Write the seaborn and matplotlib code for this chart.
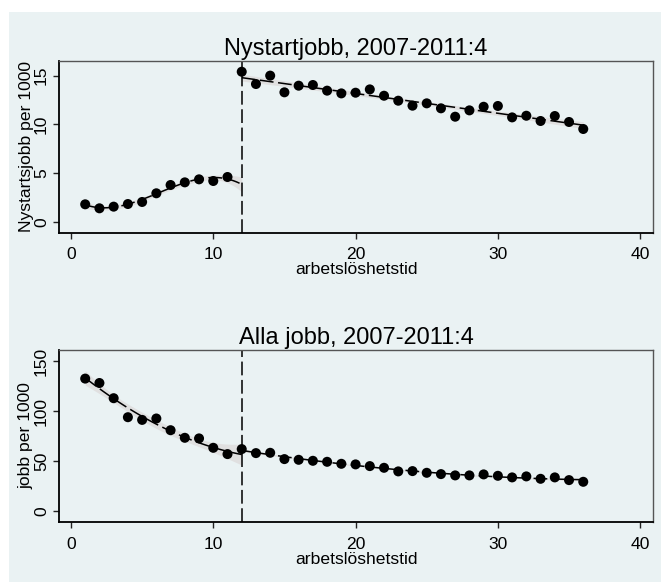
import numpy as np
import pandas as pd
import matplotlib
matplotlib.use("Agg")
import matplotlib.pyplot as plt
import seaborn as sns
from matplotlib.patches import Rectangle

# ---- data ----
months = list(range(1, 37))
nystart = [1.81, 1.40, 1.57, 1.84, 2.05, 2.94, 3.79, 4.06, 4.37, 4.20, 4.61,
           15.40, 14.14, 15.00, 13.29, 13.97, 14.04, 13.46, 13.18, 13.25, 13.59,
           12.94, 12.43, 11.92, 12.16, 11.65, 10.79, 11.44, 11.81, 11.89, 10.72,
           10.89, 10.35, 10.86, 10.25, 9.53]
alla = [132.4, 128.0, 112.8, 93.8, 91.1, 92.5, 80.8, 73.2, 72.6, 63.2, 56.9,
        61.9, 57.9, 58.2, 51.9, 51.2, 50.2, 49.2, 47.2, 46.6, 44.9, 43.2,
        39.6, 39.9, 38.2, 36.9, 35.6, 35.6, 36.6, 35.2, 33.6, 34.6, 32.2,
        33.6, 30.9, 29.2]
cutoff = 12
titles = ["Nystartjobb, 2007-2011:4", "Alla jobb, 2007-2011:4"]
ylabels = ["Nystartsjobb per 1000", "jobb per 1000"]
xlabel = "arbetslöshetstid"
xticks = [0, 10, 20, 30, 40]
yticks_top = [0, 5, 10, 15]
yticks_bot = [0, 50, 100, 150]
fit_orders = [(3, 1), (2, 2)]

BG = "#EAF2F3"
sns.set_theme(style="white")
plt.rcParams["font.family"] = ["Liberation Sans", "DejaVu Sans"]
plt.rcParams.update({"text.color": "black", "axes.labelcolor": "black",
                     "xtick.color": "black", "ytick.color": "black"})

fig = plt.figure(figsize=(6.61, 5.82), dpi=100)
fig.patch.set_facecolor("white")
fig.patches.append(Rectangle((9 / 661, 0), 1 - 9 / 661, 1 - 12 / 582,
                             transform=fig.transFigure, facecolor=BG,
                             edgecolor="none", zorder=-10))

left, width = 59.3 / 661, (652.7 - 59.3) / 661
ax_top = fig.add_axes([left, 1 - 232.7 / 582, width, (232.7 - 61) / 582])
ax_bot = fig.add_axes([left, 1 - 522 / 582, width, (522 - 350) / 582])


def fit_segment(x, y, order, x0, x1):
    x = np.asarray(x, float)
    y = np.asarray(y, float)
    coef, cov = np.polyfit(x, y, order, cov=True)
    xs = np.linspace(x0, x1, 100)
    X = np.vstack([xs ** p for p in range(order, -1, -1)]).T
    yh = X @ coef
    se = np.sqrt(np.einsum("ij,jk,ik->i", X, cov, X))
    return xs, yh, se


def draw(ax, yvals, orders, title, ylabel, yticks, ylim):
    ax.set_facecolor(BG)
    df = pd.DataFrame({"x": months, "y": yvals})
    left_df = df[df.x < cutoff]
    right_df = df[df.x >= cutoff]
    for part, order, (a, b) in [(left_df, orders[0], (1, cutoff)),
                                (right_df, orders[1], (cutoff, 36))]:
        xs, yh, se = fit_segment(part.x, part.y, order, a, b)
        ax.fill_between(xs, yh - 1.96 * se, yh + 1.96 * se,
                        color="#DDD9D9", alpha=0.7, lw=0, zorder=1)
        sns.lineplot(x=xs, y=yh, ax=ax, color="black", lw=1.1,
                     dashes=False, zorder=2).lines[-1].set_dashes([9, 3])
    sns.scatterplot(data=df, x="x", y="y", ax=ax, color="black", s=52,
                    edgecolor="none", zorder=3)
    ax.axvline(cutoff, color="black", lw=1.1, dashes=[9, 3], zorder=2)
    ax.set_xlim(-0.82, 40.88)
    ax.set_ylim(*ylim)
    ax.set_xticks(xticks)
    ax.set_yticks(yticks)
    ax.set_yticklabels([str(t) for t in yticks], rotation=90, va="center")
    ax.tick_params(axis="both", which="major", direction="out", length=4.5,
                   width=1, color="#222222", labelsize=12.6, pad=3,
                   bottom=True, left=True)
    ax.tick_params(axis="x", pad=6)
    ax.set_xlabel(xlabel, fontsize=12.6, labelpad=0)
    ax.set_ylabel(ylabel, fontsize=12.6, labelpad=0)
    ax.set_title(title, fontsize=17, pad=4)
    for s in ["left", "bottom"]:
        ax.spines[s].set_color("black")
        ax.spines[s].set_linewidth(1.3)
    for s in ["top", "right"]:
        ax.spines[s].set_color("#555555")
        ax.spines[s].set_linewidth(1.0)
        ax.spines[s].set_visible(True)


draw(ax_top, nystart, fit_orders[0], titles[0], ylabels[0], yticks_top,
     (-1.1, 16.5))
draw(ax_bot, alla, fit_orders[1], titles[1], ylabels[1], yticks_bot,
     (-11, 161))

fig.savefig("out.png", dpi=100, facecolor=fig.get_facecolor())
